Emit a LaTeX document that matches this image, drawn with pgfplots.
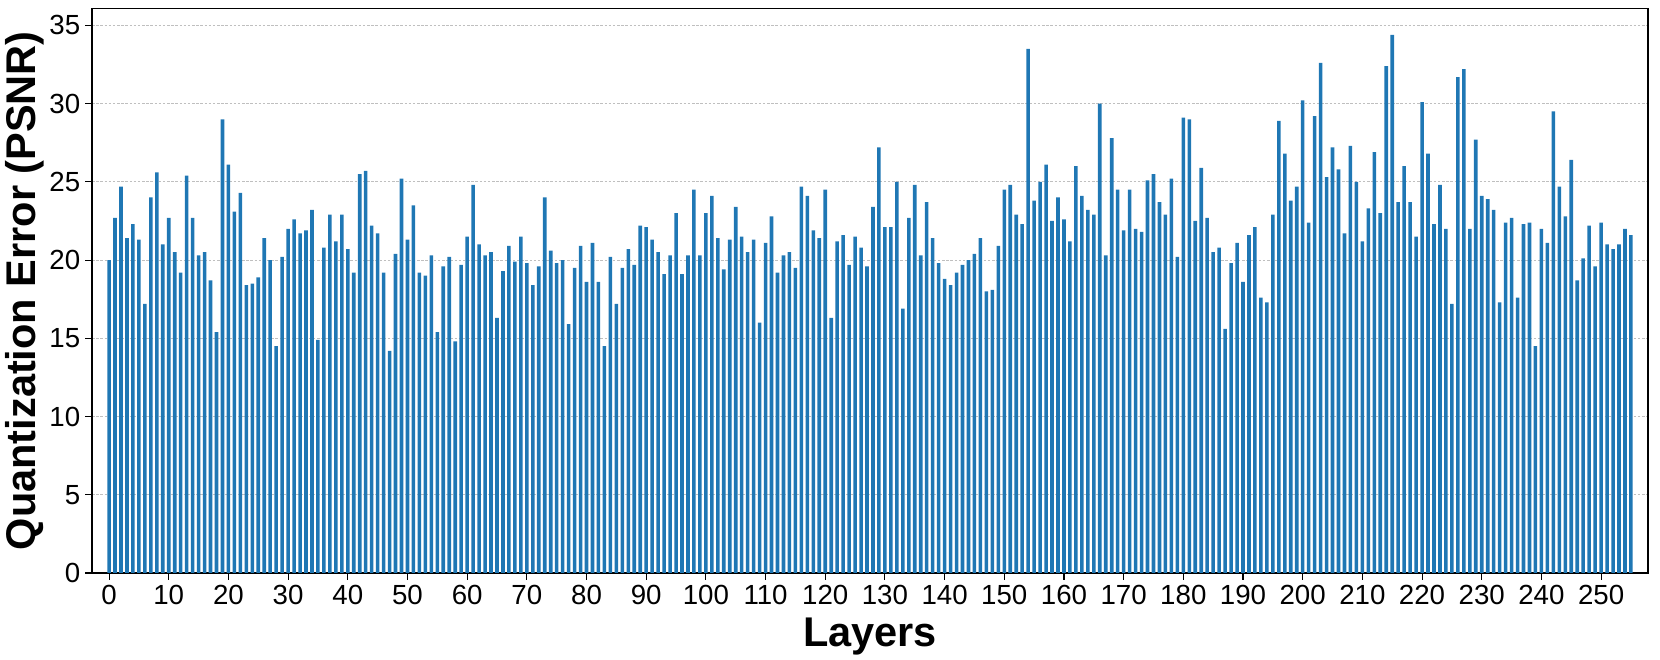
\documentclass[border=0pt]{standalone}
\usepackage{fontspec}
\setmainfont{Liberation Sans}
\usepackage{pgfplots}
\usepackage{pgfplotstable}
\pgfplotsset{compat=1.18}
\definecolor{barblue}{HTML}{1F77B4}

% layer, PSNR
\pgfplotstableread{
x y
0 20.0
1 22.7
2 24.7
3 21.4
4 22.3
5 21.3
6 17.2
7 24.0
8 25.6
9 21.0
10 22.7
11 20.5
12 19.2
13 25.4
14 22.7
15 20.3
16 20.5
17 18.7
18 15.4
19 29.0
20 26.1
21 23.1
22 24.3
23 18.4
24 18.5
25 18.9
26 21.4
27 20.0
28 14.5
29 20.2
30 22.0
31 22.6
32 21.7
33 21.9
34 23.2
35 14.9
36 20.8
37 22.9
38 21.2
39 22.9
40 20.7
41 19.2
42 25.5
43 25.7
44 22.2
45 21.7
46 19.2
47 14.2
48 20.4
49 25.2
50 21.3
51 23.5
52 19.2
53 19.0
54 20.3
55 15.4
56 19.6
57 20.2
58 14.8
59 19.7
60 21.5
61 24.8
62 21.0
63 20.3
64 20.5
65 16.3
66 19.3
67 20.9
68 19.9
69 21.5
70 19.8
71 18.4
72 19.6
73 24.0
74 20.6
75 19.8
76 20.0
77 15.9
78 19.5
79 20.9
80 18.6
81 21.1
82 18.6
83 14.5
84 20.2
85 17.2
86 19.5
87 20.7
88 19.7
89 22.2
90 22.1
91 21.3
92 20.5
93 19.1
94 20.3
95 23.0
96 19.1
97 20.3
98 24.5
99 20.3
100 23.0
101 24.1
102 21.4
103 19.4
104 21.3
105 23.4
106 21.5
107 20.5
108 21.3
109 16.0
110 21.1
111 22.8
112 19.2
113 20.3
114 20.5
115 19.5
116 24.7
117 24.1
118 21.9
119 21.4
120 24.5
121 16.3
122 21.2
123 21.6
124 19.7
125 21.5
126 20.8
127 19.6
128 23.4
129 27.2
130 22.1
131 22.1
132 25.0
133 16.9
134 22.7
135 24.8
136 20.3
137 23.7
138 21.4
139 19.8
140 18.8
141 18.4
142 19.2
143 19.7
144 20.0
145 20.4
146 21.4
147 18.0
148 18.1
149 20.9
150 24.5
151 24.8
152 22.9
153 22.3
154 33.5
155 23.8
156 25.0
157 26.1
158 22.5
159 24.0
160 22.6
161 21.2
162 26.0
163 24.1
164 23.2
165 22.9
166 30.0
167 20.3
168 27.8
169 24.5
170 21.9
171 24.5
172 22.0
173 21.8
174 25.1
175 25.5
176 23.7
177 22.9
178 25.2
179 20.2
180 29.1
181 29.0
182 22.5
183 25.9
184 22.7
185 20.5
186 20.8
187 15.6
188 19.8
189 21.1
190 18.6
191 21.6
192 22.1
193 17.6
194 17.3
195 22.9
196 28.9
197 26.8
198 23.8
199 24.7
200 30.2
201 22.4
202 29.2
203 32.6
204 25.3
205 27.2
206 25.8
207 21.7
208 27.3
209 25.0
210 21.2
211 23.3
212 26.9
213 23.0
214 32.4
215 34.4
216 23.7
217 26.0
218 23.7
219 21.5
220 30.1
221 26.8
222 22.3
223 24.8
224 22.0
225 17.2
226 31.7
227 32.2
228 22.0
229 27.7
230 24.1
231 23.9
232 23.2
233 17.3
234 22.4
235 22.7
236 17.6
237 22.3
238 22.4
239 14.5
240 22.0
241 21.1
242 29.5
243 24.7
244 22.8
245 26.4
246 18.7
247 20.1
248 22.2
249 19.6
250 22.4
251 21.0
252 20.7
253 21.0
254 22.0
255 21.6
}\psnr

\begin{document}
\begin{tikzpicture}
\useasboundingbox (-66.24bp,-62.64bp) rectangle (1128.94bp,412.52bp);
\begin{axis}[
    scale only axis,
    width=1120.3bp,
    height=406.4bp,
    xmin=-2.86, xmax=257.86,
    ymin=0, ymax=36.08,
    xtick={0,10,...,250},
    ytick={0,5,...,35},
    tick align=outside,
    major tick length=5bp,
    tick style={black, line width=0.8bp},
    axis line style={black, line width=0.8bp},
    xtick pos=bottom, ytick pos=left,
    ymajorgrids=true,
    grid style={gray!50, line width=0.5bp, dash pattern=on 1.8bp off 1.2bp},
    /pgf/number format/assume math mode=true,
    ticklabel style={font=\fontsize{20}{22}\selectfont},
    label style={font=\fontsize{30}{34}\selectfont\bfseries},
    xlabel={Layers},
    ylabel={Quantization Error (PSNR)},
    xlabel style={yshift=-3bp},
    ylabel style={yshift=-3bp},
  ]
  \addplot[ybar, bar width=0.6, fill=barblue, draw=none] table[x=x, y=y] {\psnr};
\end{axis}
\end{tikzpicture}
\end{document}
